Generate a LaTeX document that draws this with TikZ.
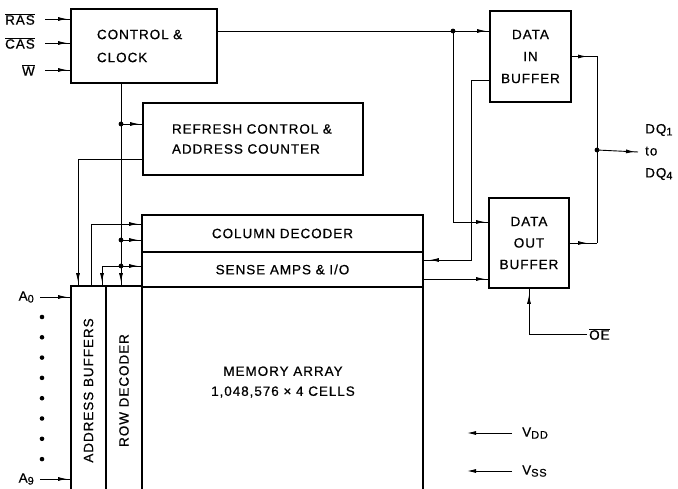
\documentclass[tikz,border=0pt]{standalone}
\usepackage{fontspec}
\setmainfont{Liberation Sans}[LetterSpace=7,FakeBold=0.6]
\usepackage{graphicx}
\usetikzlibrary{arrows.meta,decorations.markings}

\newcommand\lsub[1]{\raisebox{-2pt}{\fontsize{11}{11}\selectfont #1}}
\newcommand\negpin[1]{$\overline{\mbox{#1}}$}

\tikzset{
  box/.style={draw,line width=1.7pt,inner sep=0pt,align=center},
  wire/.style={line width=0.9pt},
  tip/.style={postaction={decorate},decoration={markings,
    mark=at position -#1 with {\arrow{Latex[length=9pt,width=4pt]}}}},
  tip/.default=3pt,
  pinlabel/.style={inner ysep=0pt,inner xsep=10pt},
  every node/.style={font=\fontsize{13.5}{22}\selectfont}
}

\begin{document}
\begin{tikzpicture}[x=1pt,y=-1pt]
\useasboundingbox (0,0) rectangle (678,489);
\clip (0,0) rectangle (678,489);

% blocks
\node[box,minimum width=146pt,minimum height=74pt,text width=94pt,inner xsep=26pt,align=left,font=\fontsize{13.5}{23}\selectfont] (ctrl) at (144,46) {CONTROL \&\\CLOCK};
\node[box,minimum width=220pt,minimum height=72pt,text width=162pt,inner xsep=29pt,align=left,font=\fontsize{13.5}{20}\selectfont] (refresh) at (253,139) {REFRESH CONTROL \&\\ADDRESS COUNTER};
\node[box,minimum width=81pt,minimum height=91pt] (din) at (530.5,56.5) {DATA\\IN\\BUFFER};
\node[box,minimum width=80pt,minimum height=90pt,font=\fontsize{13.5}{21.5}\selectfont] (dout) at (529,243) {DATA\\OUT\\BUFFER};
\node[box,minimum width=281pt,minimum height=37pt] (coldec) at (282.5,233.5) {COLUMN DECODER};
\node[box,minimum width=281pt,minimum height=35pt] (sense) at (282.5,269.5) {SENSE AMPS \& I/O};
\node[box,minimum width=35pt,minimum height=209pt] (addrbuf) at (88.5,390.5) {\rotatebox{90}{ADDRESS BUFFERS}};
\node[box,minimum width=36pt,minimum height=209pt] (rowdec) at (124,390.5) {\rotatebox{90}{ROW DECODER}};
\node[box,minimum width=281pt,minimum height=208pt] (array) at (282.5,391) {};
\node[align=center,font=\fontsize{13.5}{20}\selectfont] (arraytext) at (283,382) {MEMORY ARRAY\\1,048,576 × 4 CELLS};

% pins
\node[pinlabel,anchor=east] (ras) at (45,19) {\negpin{RAS}};
\node[pinlabel,anchor=east] (cas) at (45,43) {\negpin{CAS}};
\node[pinlabel,anchor=east] (w) at (45,70) {\negpin{W}};
\node[pinlabel,inner xsep=6pt,anchor=east] (a0) at (40,297) {A\lsub{0}};
\node[pinlabel,inner xsep=6pt,anchor=east] (a9) at (40,479) {A\lsub{9}};
\node[pinlabel,inner xsep=2pt,anchor=west] (oe) at (587,334) {\negpin{OE}};
\node[pinlabel,anchor=west] (vdd) at (512,433) {V\lsub{DD}};
\node[pinlabel,anchor=west] (vss) at (512,471) {V\lsub{SS}};
\node[pinlabel,inner xsep=7pt,anchor=west,align=left] (dq) at (638,152) {DQ\lsub{1}\\to\\DQ\lsub{4}};

\draw[wire,tip] (ras.east) -- (ras.east -| ctrl.west);
\draw[wire,tip] (cas.east) -- (cas.east -| ctrl.west);
\draw[wire,tip] (w.east) -- (w.east -| ctrl.west);
\draw[wire,tip] (a0.east) -- (a0.east -| addrbuf.west);
\draw[wire,tip] (a9.east) -- (a9.east -| addrbuf.west);
\foreach \i in {0,...,7}
  \fill (42,317+20.3*\i) circle (2.3pt);

% routing points
\coordinate (j1) at (453,31);
\coordinate (j2) at (121,124);
\coordinate (j3) at (121,240);
\coordinate (j4) at (121,266);
\coordinate (jdq) at (597,150);
\coordinate (r1) at (453,222);
\coordinate (r2) at (471,80);
\coordinate (r3) at (471,260);
\coordinate (r4) at (423,279);
\coordinate (r5) at (102,266);
\coordinate (r6) at (78,159);
\coordinate (r7) at (91,224);

% data path
\draw[wire,tip] (ctrl.east |- j1) -- (j1 -| din.west);
\draw[wire,tip] (j1) |- (r1 -| dout.west);
\draw[wire,tip=6pt] (r2 -| din.west) -- (r2) -- (r3) -- (r3 -| sense.east);
\draw[wire,tip] (r4 -| sense.east) -- (r4 -| dout.west);
\draw[wire,tip=10pt] (din.east) -- (din.east -| jdq);
\draw[wire] (din.east -| jdq) -- (jdq);
\draw[wire,tip=10pt] (dout.east) -- (dout.east -| jdq);
\draw[wire] (dout.east -| jdq) -- (jdq);
\draw[wire,tip] (jdq) -- (dq.west);
\draw[wire,tip=6pt] (oe.west) -| (dout.south);

% clock and address lines
\draw[wire,tip] (j2 |- ctrl.south) -- (j2 |- rowdec.north);
\draw[wire,tip] (j2) -- (j2 -| refresh.west);
\draw[wire,tip] (j3) -- (j3 -| coldec.west);
\draw[wire,tip] (j4) -- (j4 -| sense.west);
\draw[wire,tip] (j4) -- (r5) -- (r5 |- addrbuf.north);
\draw[wire,tip] (refresh.west |- r6) -- (r6) -- (r6 |- addrbuf.north);
\draw[wire,tip] (r7 |- addrbuf.north) -- (r7) -- (r7 -| coldec.west);

\foreach \j in {j1,j2,j3,j4,jdq}
  \fill (\j) circle (2.4pt);

% supplies
\coordinate (vddend) at (467,433);
\coordinate (vssend) at (467,471);
\draw[wire,-{Latex[length=9pt,width=4pt]}] (vdd.west) -- (vddend);
\draw[wire,-{Latex[length=9pt,width=4pt]}] (vss.west) -- (vssend);
\end{tikzpicture}
\end{document}
